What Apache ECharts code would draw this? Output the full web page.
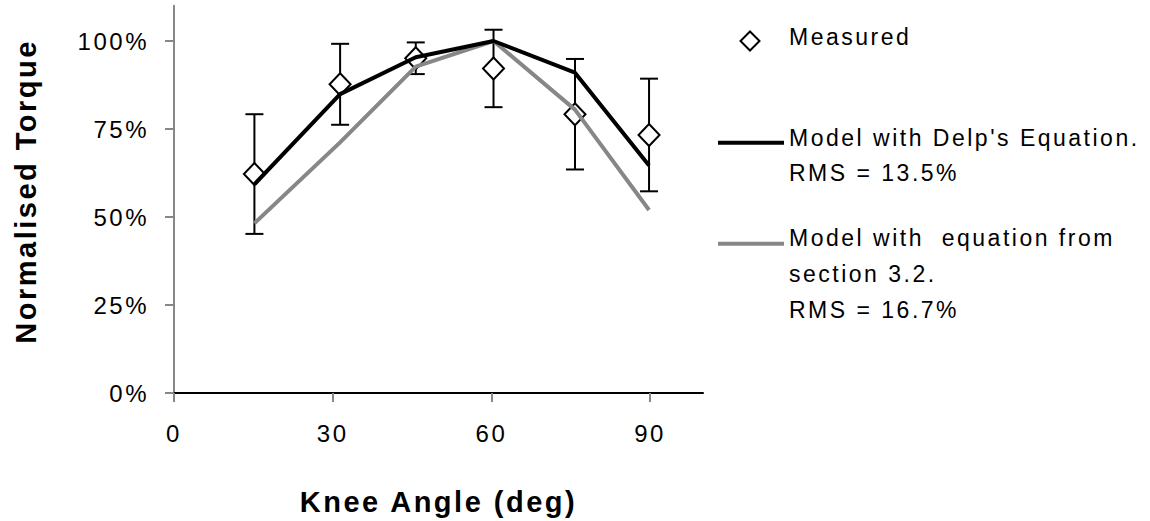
<!DOCTYPE html>
<html>
<head>
<meta charset="utf-8">
<script src="https://cdn.jsdelivr.net/npm/echarts@6/dist/echarts.min.js"></script>
<style>
  html, body { margin: 0; padding: 0; background: #fff; }
  #chart { width: 1150px; height: 521px; }
  /* widely tracked lettering, as in the typeset figure */
  #chart text { letter-spacing: 2.5px; }
</style>
</head>
<body>
<div id="chart"></div>
<script>
// Knee angle (deg) of each trial position
const angles = [15.2, 31.4, 45.7, 60.4, 75.8, 89.8];
// Measured normalised torque (%) and its standard deviation
const measured = [62.2, 87.7, 95.1, 92.2, 79.2, 73.3];
const measuredSd = [17.0, 11.5, 4.5, 11.0, 15.7, 16.0];
// Model predictions (%)
const delpModel = [59.3, 84.9, 95.4, 100, 91.0, 64.6];
const section32Model = [48.2, 71.2, 92.7, 100, 80.5, 52.0];
// Tick labels
const xTicks = [0, 30, 60, 90];
const yTicks = [0, 25, 50, 75, 100];

const FONT = "'Liberation Sans', Arial, sans-serif";
const GREY = '#878787';

const pairs = (xs, ys) => xs.map((x, i) => [x, ys[i]]);
const errorData = angles.map((x, i) => [x, measured[i] - measuredSd[i], measured[i] + measuredSd[i]]);

const chart = echarts.init(document.getElementById('chart'), null, { renderer: 'svg' });

chart.setOption({
  animation: false,
  backgroundColor: '#fff',
  grid: { left: 174, right: 447, top: 5.8, bottom: 127.7 },
  xAxis: {
    type: 'value',
    min: 0,
    max: 100,
    name: 'Knee Angle (deg)',
    nameLocation: 'middle',
    nameGap: 94,
    nameTextStyle: { fontFamily: FONT, fontSize: 29, fontWeight: 'bold', color: '#000' },
    axisLine: { show: true, lineStyle: { color: '#000', width: 2 } },
    axisTick: { show: true, customValues: xTicks, length: 9, lineStyle: { color: GREY, width: 2 } },
    axisLabel: { customValues: xTicks, margin: 28, fontFamily: FONT, fontSize: 24, color: '#000' },
    splitLine: { show: false }
  },
  yAxis: {
    type: 'value',
    min: 0,
    max: 110,
    name: 'Normalised Torque',
    nameLocation: 'middle',
    nameGap: 134,
    nameTextStyle: { fontFamily: FONT, fontSize: 29, fontWeight: 'bold', color: '#000', padding: [0, 0, 0, 16] },
    axisLine: { show: true, lineStyle: { color: GREY, width: 2 } },
    axisTick: { show: true, customValues: yTicks, length: 9, lineStyle: { color: GREY, width: 2 } },
    axisLabel: {
      customValues: yTicks,
      formatter: '{value}%',
      margin: 25,
      padding: [0, 0, 6, 0],
      fontFamily: FONT, fontSize: 24, color: '#000'
    },
    splitLine: { show: false }
  },
  series: [
    {
      name: 'Measured SD',
      type: 'custom',
      data: errorData,
      z: 2,
      renderItem: function (params, api) {
        const x = api.value(0);
        const lo = api.coord([x, api.value(1)]);
        const hi = api.coord([x, api.value(2)]);
        const half = 9;
        const st = { stroke: '#000', lineWidth: 2 };
        return {
          type: 'group',
          children: [
            { type: 'line', shape: { x1: hi[0], y1: hi[1], x2: lo[0], y2: lo[1] }, style: st },
            { type: 'line', shape: { x1: hi[0] - half, y1: hi[1], x2: hi[0] + half, y2: hi[1] }, style: st },
            { type: 'line', shape: { x1: lo[0] - half, y1: lo[1], x2: lo[0] + half, y2: lo[1] }, style: st }
          ]
        };
      }
    },
    {
      name: 'Measured',
      type: 'scatter',
      data: pairs(angles, measured),
      symbol: 'diamond',
      symbolSize: [21, 22],
      z: 3,
      itemStyle: { color: '#fff', borderColor: '#000', borderWidth: 2, opacity: 1 }
    },
    {
      name: "Model with Delp's Equation.",
      type: 'line',
      data: pairs(angles, delpModel),
      showSymbol: false,
      symbol: 'none',
      z: 5,
      lineStyle: { color: '#000', width: 4 }
    },
    {
      name: 'Model with equation from section 3.2.',
      type: 'line',
      data: pairs(angles, section32Model),
      showSymbol: false,
      symbol: 'none',
      z: 4,
      lineStyle: { color: GREY, width: 4 }
    }
  ],
  graphic: [
    // legend: measured marker
    {
      type: 'polygon',
      shape: { points: [[750, 31.5], [759.5, 41], [750, 50.5], [740.5, 41]] },
      style: { fill: '#fff', stroke: '#000', lineWidth: 2 }
    },
    {
      type: 'text', x: 789, y: 36.7 - 17.8,
      style: { text: 'Measured', font: '23px ' + FONT, fill: '#000', lineHeight: 35.6 }
    },
    // legend: Delp model
    {
      type: 'line',
      shape: { x1: 718, y1: 142.7, x2: 784, y2: 142.7 },
      style: { stroke: '#000', lineWidth: 4 }
    },
    {
      type: 'text', x: 789, y: 137.7 - 17.8,
      style: { text: "Model with Delp's Equation.\nRMS = 13.5%", font: '23px ' + FONT, fill: '#000', lineHeight: 35.6 }
    },
    // legend: section 3.2 model
    {
      type: 'line',
      shape: { x1: 718, y1: 243.7, x2: 784, y2: 243.7 },
      style: { stroke: GREY, lineWidth: 4 }
    },
    {
      type: 'text', x: 789, y: 238.3 - 17.8,
      style: { text: 'Model with  equation from\nsection 3.2.\nRMS = 16.7%', font: '23px ' + FONT, fill: '#000', lineHeight: 35.6 }
    }
  ]
});
</script>
</body>
</html>
